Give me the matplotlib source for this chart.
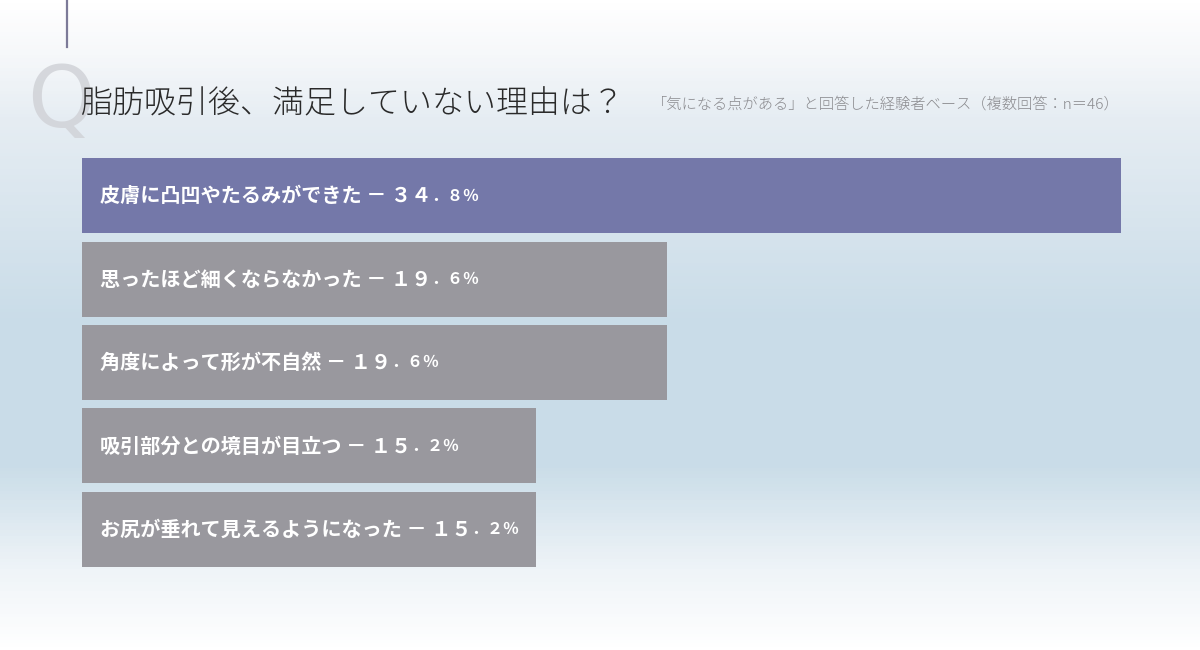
import numpy as np
import matplotlib
matplotlib.use("Agg")
import matplotlib.pyplot as plt
from matplotlib.colors import LinearSegmentedColormap

plt.rcParams['font.family'] = ['Noto Sans CJK JP', 'DejaVu Sans']

categories = ["皮膚に凸凹やたるみができた", "思ったほど細くならなかった", "角度によって形が不自然",
              "吸引部分との境目が目立つ", "お尻が垂れて見えるようになった"]
values = [34.8, 19.6, 19.6, 15.2, 15.2]
title = "脂肪吸引後、満足していない理由は？"
subtitle = "「気になる点がある」と回答した経験者ベース（複数回答：n＝46）"

W, H = 1200, 650
fig = plt.figure(figsize=(12, 6.5), dpi=100)

# background gradient
bg = fig.add_axes([0, 0, 1, 1])
bg.set_axis_off()
ys = np.linspace(0, 1, 200)[:, None]
xs = np.linspace(0, 1, 300)[None, :]
cmap = LinearSegmentedColormap.from_list("bgc", [(0.0, "#ffffff"), (0.08, "#f6f8fa"), (0.18, "#e6edf3"),
                                                (0.5, "#c9dce8"), (0.72, "#cadde8"), (0.88, "#eff4f8"), (1.0, "#ffffff")])
grad = ys + 0 * xs
bg.imshow(grad, cmap=cmap, aspect='auto', extent=[0, 1, 1, 0], vmin=0, vmax=1)
bg.set_xlim(0, 1); bg.set_ylim(1, 0)

# top-left vertical line
bg.plot([67 / W, 67 / W], [0, 47 / H], color="#7c7a98", lw=1.6)
# faint Q
bg.text(27 / W, 103 / H, "Q", fontsize=62, family=["DejaVu Sans"], fontweight="normal",
        color="#d2d4d9", ha="left", va="center", alpha=0.9, zorder=1)
bg.text(80 / W, 104 / H, title, fontsize=23, color="#2a2a2a", ha="left", va="center",
        fontweight="light", zorder=2)
bg.text(1120 / W, 104 / H, subtitle, fontsize=11, color="#8a8a8e", ha="right", va="center",
        fontweight="light")

# bar axes: x from 82 px
top_px, bot_px = 154, 571
ax = fig.add_axes([82 / W, 1 - bot_px / H, (1200 - 82) / W, (bot_px - top_px) / H])
ax.set_axis_off()
xmax = 34.8 * (1200 - 82) / (1121 - 82)
ax.set_xlim(0, xmax)
n = len(values)
ax.set_ylim(n - 0.5, -0.5)
ypos = np.arange(n)
colors = ["#7478a9"] + ["#99989e"] * (n - 1)
ax.barh(ypos, values, height=0.9, color=colors, edgecolor="none")

fw = str.maketrans("0123456789.%", "０１２３４５６７８９．％")
for y, c, v in zip(ypos, categories, values):
    ip, dp = f"{v:.1f}".split(".")
    t1 = ax.text(0.6, y, f"{c} － {ip}".translate(fw), fontsize=14.5, fontweight="bold",
                 color="white", ha="left", va="center")
    ax.annotate(f".{dp}%".translate(fw), xy=(1, 0.12), xycoords=t1, fontsize=11.5,
                fontweight="bold", color="white", ha="left", va="bottom")

fig.savefig("out.png", dpi=100)
